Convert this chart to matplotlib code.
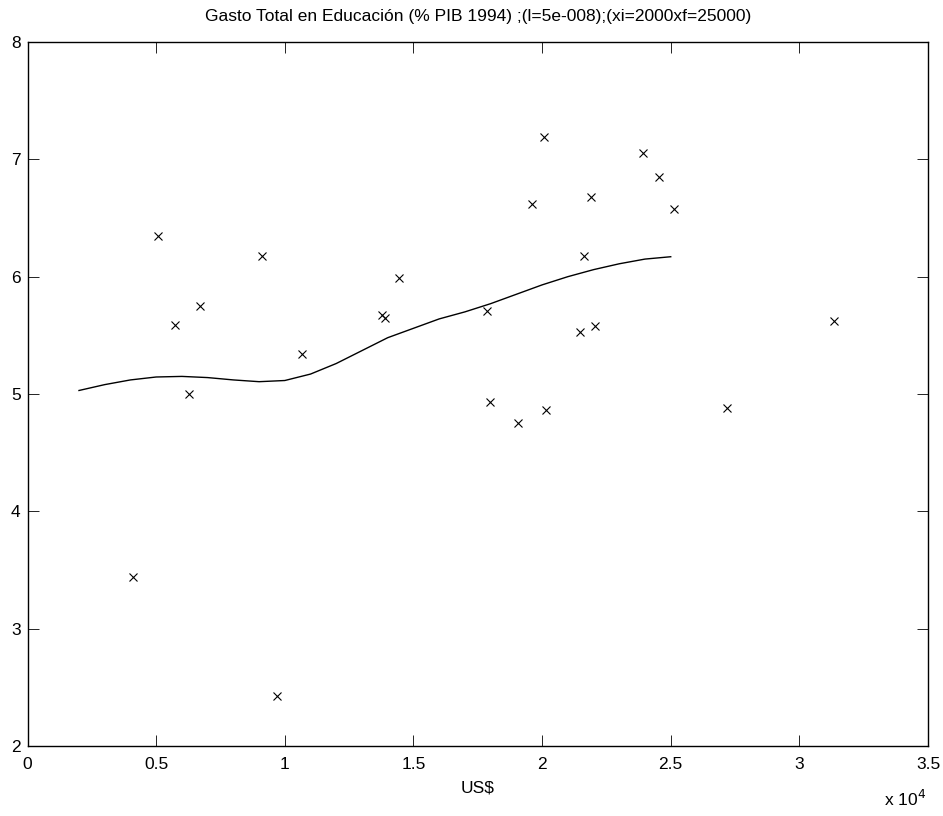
import matplotlib
matplotlib.use("Agg")
import matplotlib.pyplot as plt

# gasto en educacion (% PIB 1994) vs ingreso per capita (US$)
ingreso = [4115, 5087, 5724, 6268, 6708, 9131, 9703, 10687, 13774, 13903,
           14420, 17843, 17974, 19048, 19607, 20059, 20164, 21486, 21642,
           21887, 22057, 23909, 24531, 25115, 27191, 31364]
gasto = [3.44, 6.35, 5.59, 5.00, 5.75, 6.18, 2.43, 5.34, 5.67, 5.65,
         5.99, 5.71, 4.93, 4.75, 6.62, 7.19, 4.86, 5.53, 6.18,
         6.68, 5.58, 7.05, 6.85, 6.58, 4.88, 5.62]

# curva suavizada (xi=2000, xf=25000)
curva_x = [2000, 3000, 4000, 5000, 6000, 7000, 8000, 9000, 10000, 11000,
           12000, 13000, 14000, 15000, 16000, 17000, 18000, 19000, 20000,
           21000, 22000, 23000, 24000, 25000]
curva_y = [5.03, 5.08, 5.12, 5.145, 5.15, 5.14, 5.12, 5.105, 5.115, 5.17,
           5.26, 5.37, 5.48, 5.56, 5.64, 5.70, 5.77, 5.85, 5.93,
           6.00, 6.06, 6.11, 6.15, 6.17]

xticks = [0, 5000, 10000, 15000, 20000, 25000, 30000, 35000]
xticklabels = ["0", "0.5", "1", "1.5", "2", "2.5", "3", "3.5"]
yticks = [2, 3, 4, 5, 6, 7, 8]

plt.rcParams["font.family"] = ["Liberation Sans", "DejaVu Sans"]

fig = plt.figure(figsize=(9.43, 8.16), dpi=100)
ax = fig.add_axes([0.0292, 0.0858, 0.9549, 0.8627])

ax.plot(curva_x, curva_y, color="black", linewidth=1.0)
ax.plot(ingreso, gasto, linestyle="none", marker="x", color="black",
        markersize=6, markeredgewidth=0.8)

ax.set_xlim(0, 35000)
ax.set_ylim(2, 8)
ax.set_xticks(xticks)
ax.set_xticklabels(xticklabels)
ax.set_yticks(yticks)
ax.tick_params(direction="in", top=True, right=True, length=8, width=0.6,
               labelsize=12.5)
ax.tick_params(axis="x", pad=8)
ax.tick_params(axis="y", pad=5)
for s in ax.spines.values():
    s.set_linewidth(1.0)

ax.set_title("Gasto Total en Educación (% PIB 1994) ;(l=5e-008);(xi=2000xf=25000)",
             fontsize=12.5, pad=15)
ax.set_xlabel("US$", fontsize=12.5, labelpad=6)
fig.text(0.96, 0.008, r"x 10$^4$", fontsize=12.5, ha="center", va="bottom")

fig.savefig("out.png", dpi=100)
